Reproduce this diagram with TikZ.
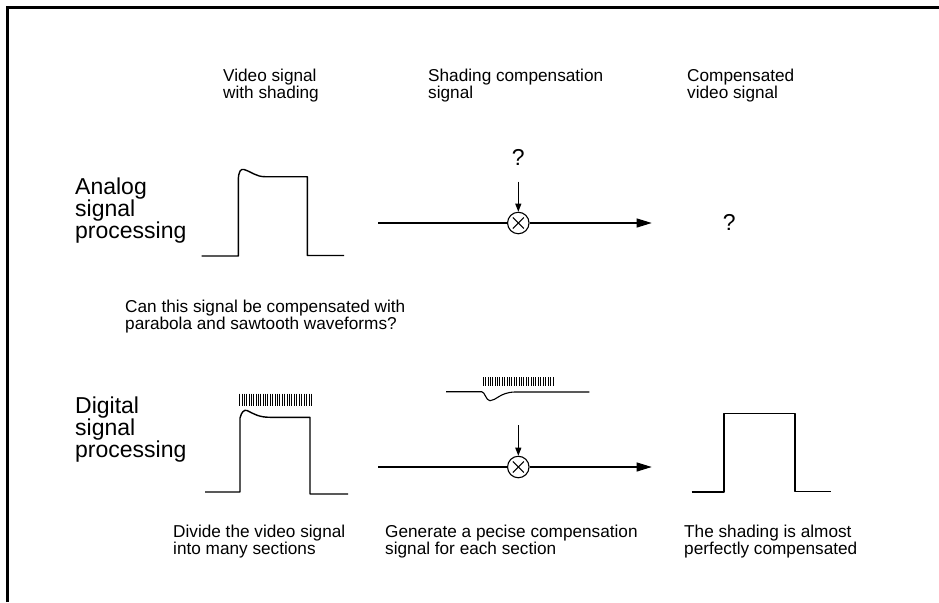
\documentclass[tikz,border=0pt]{standalone}
\usepackage{fontspec}
\setmainfont{Liberation Sans}
\usetikzlibrary{arrows.meta,calc}
\begin{document}
\begin{tikzpicture}[x=1pt,y=-1pt,
  lbl/.style={anchor=north west,inner sep=0pt,align=left,font=\fontsize{17.2}{15.8}\selectfont},
  big/.style={anchor=north west,inner sep=0pt,align=left,font=\fontsize{23}{21.7}\selectfont},
  qm/.style={inner sep=0pt,font=\fontsize{23}{23}\selectfont},
  wave/.style={line width=1.4pt,line join=round},
  sig/.style={line width=1.1pt},
  mult/.style={circle,draw,line width=1.1pt,minimum size=21.5pt,inner sep=0pt},
  tick/.style={line width=0.6pt},
  fwd/.style={-{Triangle[length=15pt,width=9pt]}},
  down/.style={-{Triangle[length=8pt,width=6pt]}}]
\useasboundingbox (0,0) rectangle (939,602);
\draw[line width=3pt] (7.5,602) -- (7.5,7.5) -- (939,7.5);

% headers
\node[lbl] (h1) at (223,69) {Video signal\\with shading};
\node[lbl] (h2) at (428,69) {Shading compensation\\signal};
\node[lbl] (h3) at (687,69) {Compensated\\video signal};

% row labels
\node[big] (ana) at (75,178) {Analog\\signal\\processing};
\node[big] (dig) at (75,397) {Digital\\signal\\processing};

% analog waveform
\draw[wave] (201.7,256) -- (238.3,256) -- (238.3,180)
  .. controls (238.5,171) and (241,168.5) .. (244,169.5)
  .. controls (252,172) and (256,176.7) .. (265,176.7)
  -- (307.3,176.7) -- (307.3,255.5) -- (344,255.5);

% analog multiplier
\node[qm] (q1) at (518.3,157) {?};
\coordinate (d1) at (518.3,181.7);
\node[mult] (m1) at (518.3,223) {};
\draw[sig] ($(m1)+(-5.5,-5.5)$) -- ($(m1)+(5.5,5.5)$);
\draw[sig] ($(m1)+(-5.5,5.5)$) -- ($(m1)+(5.5,-5.5)$);
\coordinate (s1) at (378.3,223);
\coordinate (e1) at (651.7,223);
\draw[sig,down] (d1) -- (m1.north);
\draw[sig] (s1) -- (m1.west);
\draw[sig,fwd] (m1.east) -- (e1);
\node[qm] (q2) at (729.3,222.7) {?};

\node[lbl] (can) at (125,300) {Can this signal be compensated with\\parabola and sawtooth waveforms?};

% digital waveform with section ticks
\foreach \x in {239.5,242,244.5,246.5,249,251,253.5,256,258,260.5,263,265,267.5,270,272.5,275,277,279.5,282,284.5,287,289,291.5,294,296.5,299,301.5,304,306.5,309,311}
  \draw[tick] (\x,393.5) -- (\x,406);
\draw[wave] (205,492) -- (240,492) -- (240,418)
  .. controls (241.5,412) and (244,409.5) .. (247,410.5)
  .. controls (254,414) and (259,417.3) .. (270,417.3)
  -- (310,417.3) -- (310,494) -- (348,494);

% digital compensation signal
\foreach \x in {483,485.5,488,490,492.5,495,497,499.5,502,504.5,507,509,511.5,514,516.5,519,521,523.5,526,528.5,531,533,535.5,538,540.5,543,545.5,548,550.5,553}
  \draw[tick] (\x,377) -- (\x,386);
\draw[sig] (446,391.7) -- (481.7,391.7)
  .. controls (485,392) and (486,400.7) .. (490,400.7)
  .. controls (496,400.7) and (500,392.3) .. (515,392) -- (589.3,392);

\coordinate (d2) at (518.3,425);
\node[mult] (m2) at (518.3,467) {};
\draw[sig] ($(m2)+(-5.5,-5.5)$) -- ($(m2)+(5.5,5.5)$);
\draw[sig] ($(m2)+(-5.5,5.5)$) -- ($(m2)+(5.5,-5.5)$);
\coordinate (s2) at (378.3,467);
\coordinate (e2) at (651.7,467);
\draw[sig,down] (d2) -- (m2.north);
\draw[sig] (s2) -- (m2.west);
\draw[sig,fwd] (m2.east) -- (e2);

% compensated waveform
\draw[wave] (691.7,492) -- (724,492) -- (724,413.3) -- (795,413.3) -- (795,491.5) -- (830.7,491.5);

% bottom captions
\node[lbl] (b1) at (173,525) {Divide the video signal\\into many sections};
\node[lbl] (b2) at (385,525) {Generate a pecise compensation\\signal for each section};
\node[lbl] (b3) at (684,525) {The shading is almost\\perfectly compensated};
\end{tikzpicture}
\end{document}
